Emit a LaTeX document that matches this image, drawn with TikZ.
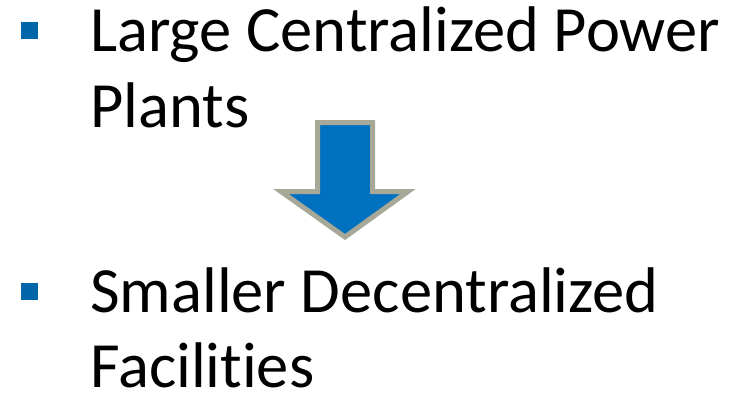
\documentclass[tikz,border=0pt]{standalone}
\usepackage{fontspec}
\setmainfont[Ligatures=NoCommon]{Carlito}
\usetikzlibrary{positioning}
\definecolor{bulletblue}{RGB}{0,102,170}
\definecolor{arrowblue}{RGB}{0,112,192}
\definecolor{arrowgray}{RGB}{168,168,152}
\tikzstyle{bullet} = [fill=bulletblue, minimum size=17pt, inner sep=0pt]
\tikzstyle{item} = [anchor=base west, inner sep=0pt, font=\fontsize{64.5}{72}\selectfont, align=left]

\begin{document}
\begin{tikzpicture}[x=1pt,y=-1pt]
\useasboundingbox (0,0) rectangle (735,393);
\node[bullet] (b1) at (29.5,30.5) {};
\node[bullet] (b2) at (29.5,291.5) {};

\node[item] (t1) at (90,52) {Large Centralized Power};
\node[item] (t2) at (90,127) {Plants};
\node[item] (t3) at (90,312) {Smaller Decentralized};
\node[item] (t4) at (90,387) {Facilities};

% big down arrow between the two items
\filldraw[fill=arrowblue, draw=arrowgray, line width=5pt, miter limit=10]
  (317.5,122.5) -- (372.5,122.5) -- (372.5,191.5) -- (408,191.5)
  -- (345,237) -- (281,191.5) -- (317.5,191.5) -- cycle;
\end{tikzpicture}
\end{document}
